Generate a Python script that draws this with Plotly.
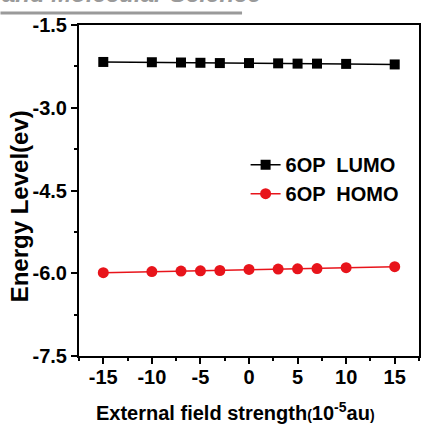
import plotly.graph_objects as go

field = [-15, -10, -7, -5, -3, 0, 3, 5, 7, 10, 15]
lumo = [-2.17, -2.175, -2.18, -2.185, -2.19, -2.19, -2.195, -2.2, -2.2, -2.205, -2.215]
homo = [-5.99, -5.97, -5.96, -5.955, -5.95, -5.93, -5.925, -5.92, -5.915, -5.90, -5.88]
yticks = [-7.5, -6.0, -4.5, -3.0, -1.5]
xticks = [-15, -10, -5, 0, 5, 10, 15]

fig = go.Figure()
fig.add_trace(go.Scatter(x=field, y=lumo, mode="lines+markers", name="6OP  LUMO",
                         line=dict(color="black", width=1.5),
                         marker=dict(symbol="square", size=10, color="black")))
fig.add_trace(go.Scatter(x=field, y=homo, mode="lines+markers", name="6OP  HOMO",
                         line=dict(color="#e8141b", width=1.5),
                         marker=dict(symbol="circle", size=11, color="#e8141b")))

font_fam = "Liberation Sans, Arial, sans-serif"
fig.update_layout(
    width=422, height=424,
    margin=dict(l=79, r=1, t=25, b=68),
    paper_bgcolor="white", plot_bgcolor="white",
    font=dict(family=font_fam, color="black"),
    showlegend=True,
    legend=dict(x=0.49, y=0.637, xanchor="left", yanchor="top",
                font=dict(size=20, family=font_fam, color="black", weight="bold"),
                bgcolor="rgba(0,0,0,0)", itemwidth=30),
    xaxis=dict(range=[-17.5, 17.5], tickvals=xticks, ticktext=[str(v) for v in xticks],
               showgrid=False, zeroline=False, showline=True, linecolor="black", linewidth=2,
               mirror=True, ticks="outside", ticklen=6, tickwidth=1.5, tickcolor="black",
               tickfont=dict(size=20, weight="bold"), ticklabelstandoff=-4,
               minor=dict(dtick=2.5, tick0=0, ticks="outside", ticklen=3, tickwidth=1.5, tickcolor="black")),
    yaxis=dict(range=[-7.5, -1.5], tickvals=yticks, ticktext=["%.1f" % v for v in yticks],
               showgrid=False, zeroline=False, showline=True, linecolor="black", linewidth=2,
               mirror=True, ticks="outside", ticklen=6, tickwidth=1.5, tickcolor="black",
               tickfont=dict(size=20, weight="bold"),
               minor=dict(dtick=0.75, tick0=-1.5, ticks="outside", ticklen=3, tickwidth=1.5, tickcolor="black")),
)

# axis titles
fig.add_annotation(xref="paper", yref="paper", x=(236 - 79) / 342, y=-(411 - 356) / 331,
                   xanchor="center", yanchor="middle", showarrow=False,
                   text="<b>External field strength<span style='font-size:14px'>(</span>10<sup>-5</sup>au<span style='font-size:14px'>)</span></b>",
                   font=dict(size=20, color="black", family=font_fam))
fig.add_annotation(xref="paper", yref="paper", x=(19 - 79) / 342, y=1 - (206 - 25) / 331,
                   xanchor="center", yanchor="middle", showarrow=False, textangle=-90,
                   text="<b>Energy Level(ev)</b>",
                   font=dict(size=24, color="black", family=font_fam))

fig.add_annotation(xref="paper", yref="paper", x=-79/342, y=1 + 16/331,
                   xanchor="left", yanchor="bottom", showarrow=False,
                   text="<b><i>and Molecular Science</i></b>",
                   font=dict(size=24, color="#9a9a9a", family=font_fam))
fig.add_shape(type="line", xref="paper", yref="paper",
              x0=-79/342, x1=(243 - 79)/342, y0=1 + 12/331, y1=1 + 12/331,
              line=dict(color="#9a9a9a", width=3))

fig.write_html("out.html")
